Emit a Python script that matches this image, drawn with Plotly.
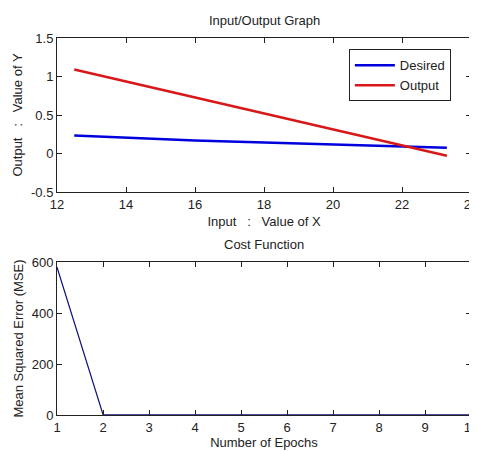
import plotly.graph_objects as go

# Top chart data
desired_x = [12.5, 13.0, 13.4, 14.2, 15.0, 16.0, 17.0, 18.0, 19.0, 20.0, 21.0, 22.0, 22.8, 23.3]
desired_y = [0.235, 0.225, 0.215, 0.2, 0.185, 0.17, 0.155, 0.142, 0.128, 0.115, 0.103, 0.092, 0.08, 0.075]
output_x = [12.5, 14.0, 16.0, 18.0, 20.0, 22.0, 23.3]
output_y = [1.09, 0.935, 0.727, 0.52, 0.313, 0.105, -0.03]

# Bottom chart data
epochs = [1, 2, 3, 4, 5, 6, 7, 8, 9, 10]
mse = [580, 2, 1, 1, 1, 1, 1, 1, 1, 1]

top_xticks = [12, 14, 16, 18, 20, 22, 24]
top_yticks = [-0.5, 0, 0.5, 1, 1.5]
top_ytext = ["-0.5", "0", "0.5", "1", "1.5"]
bot_xticks = [1, 2, 3, 4, 5, 6, 7, 8, 9, 10]
bot_yticks = [0, 200, 400, 600]

FONT = "Liberation Sans Narrow, Arial Narrow, Liberation Sans, sans-serif"

fig = go.Figure()
fig.add_trace(go.Scatter(x=desired_x, y=desired_y, mode="lines", name="Desired",
                         line=dict(color="#0000dd", width=2.5), xaxis="x", yaxis="y"))
fig.add_trace(go.Scatter(x=output_x, y=output_y, mode="lines", name="Output",
                         line=dict(color="#d81818", width=2.5), xaxis="x", yaxis="y"))
fig.add_trace(go.Scatter(x=epochs, y=mse, mode="lines", showlegend=False,
                         line=dict(color="#10107a", width=1.2), xaxis="x2", yaxis="y2"))

axis_common = dict(showgrid=False, zeroline=False, showline=True, linecolor="#222",
                   linewidth=1, mirror="allticks", ticks="inside", ticklen=5,
                   tickcolor="#222", automargin=False, ticklabeloverflow="allow",
                   tickfont=dict(size=13, color="#222", family=FONT))

fig.update_layout(
    width=469, height=444,
    margin=dict(l=49, r=6, t=30, b=37),
    paper_bgcolor="white", plot_bgcolor="white",
    font=dict(family=FONT, color="#222"),
    xaxis=dict(range=[12, 24], tickvals=top_xticks, domain=[0, 1], anchor="y",
               title=dict(text="Input   :   Value of X", font=dict(size=13), standoff=6),
               **axis_common),
    yaxis=dict(range=[-0.5, 1.5], tickvals=top_yticks, ticktext=top_ytext,
               domain=[0.5915, 1], anchor="x",
               title=dict(text="Output   :   Value of Y", font=dict(size=13), standoff=5),
               **axis_common),
    xaxis2=dict(range=[1, 10], tickvals=bot_xticks, domain=[0, 1], anchor="y2",
                title=dict(text="Number of Epochs", font=dict(size=13), standoff=4),
                **axis_common),
    yaxis2=dict(range=[0, 600], tickvals=bot_yticks, domain=[0, 0.4058], anchor="x2",
                title=dict(text="Mean Squared Error (MSE)", font=dict(size=13), standoff=5),
                **axis_common),
    legend=dict(x=0.705, y=0.97, xanchor="left", yanchor="top", xref="paper", yref="paper",
                bgcolor="white", bordercolor="#222", borderwidth=1, itemwidth=40,
                font=dict(size=13, color="#222", family=FONT), tracegroupgap=0),
    annotations=[
        dict(text="Input/Output Graph", x=0.5, y=1, xref="paper", yref="paper",
             xanchor="center", yanchor="bottom", yshift=8, showarrow=False,
             font=dict(size=13, color="#222", family=FONT)),
        dict(text="Cost Function", x=0.5, y=0.4058, xref="paper", yref="paper",
             xanchor="center", yanchor="bottom", yshift=8, showarrow=False,
             font=dict(size=13, color="#222", family=FONT)),
    ],
)

fig.write_html("out.html")
